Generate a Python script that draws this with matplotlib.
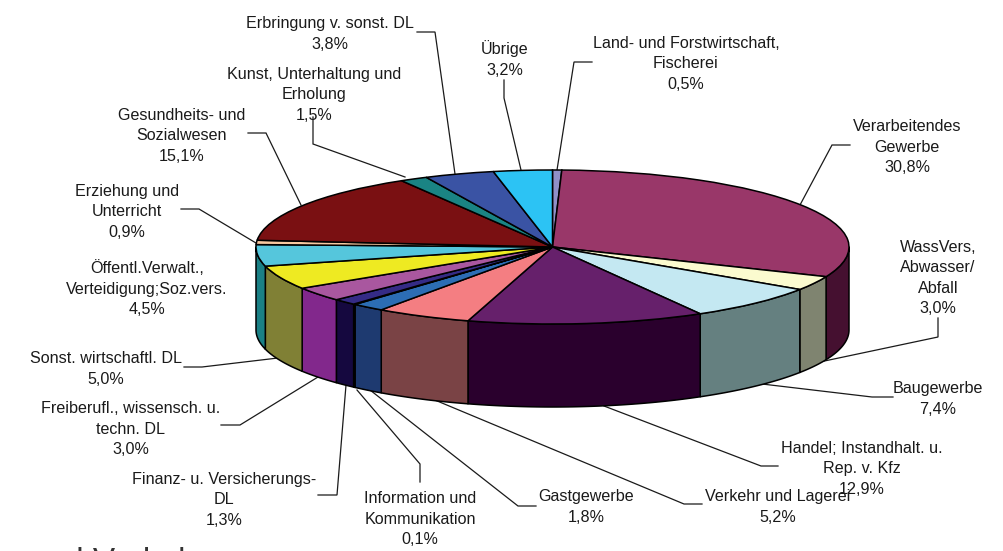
import numpy as np
import matplotlib
matplotlib.use("Agg")
import matplotlib.pyplot as plt

plt.rcParams['font.family'] = ['Liberation Sans', 'DejaVu Sans']

# ---------- data ----------
labels = ["Land- und Forstwirtschaft,\nFischerei", "Verarbeitendes\nGewerbe", "WassVers,\nAbwasser/\nAbfall",
          "Baugewerbe", "Handel; Instandhalt. u.\nRep. v. Kfz", "Verkehr und Lagerei", "Gastgewerbe",
          "Information und\nKommunikation", "Finanz- u. Versicherungs-\nDL", "Freiberufl., wissensch. u.\ntechn. DL",
          "Sonst. wirtschaftl. DL", "Öffentl.Verwalt.,\nVerteidigung;Soz.vers.", "Erziehung und\nUnterricht",
          "Gesundheits- und\nSozialwesen", "Kunst, Unterhaltung und\nErholung", "Erbringung v. sonst. DL", "Übrige"]
values = [0.5, 30.8, 3.0, 7.4, 12.9, 5.2, 1.8, 0.1, 1.3, 3.0, 5.0, 4.5, 0.9, 15.1, 1.5, 3.8, 3.2]
top_colors = ["#9090C8", "#993769", "#FBFBCF", "#C4E8F2", "#66206B", "#F47E82", "#2C6DB4", "#1A1A1A",
              "#352B86", "#A9579F", "#EEEA22", "#55C6DC", "#F8C8A0", "#7A1012", "#1A8484", "#3A53A4", "#2CC3F4"]
side_colors = ["#55556F", "#451030", "#7F8470", "#658080", "#2A002D", "#7A4345", "#1E3A70", "#111111",
               "#15083F", "#82288C", "#808035", "#1A8085", "#8A7060", "#400808", "#0D4545", "#203060", "#188090"]

# pixel positions (centre x, centre y) for label text blocks
label_xy = [(686, 64), (907, 147), (938, 278), (938, 399), (862, 469), (778, 507), (586, 507),
            (420, 519), (224, 500), (131, 429), (106, 369), (147, 289), (127, 212), (182, 136),
            (314, 95), (330, 34), (505, 59)]
leaders = [
    [(592, 62), (574, 62), (557, 170)],
    [(850, 145), (832, 145), (800, 205)],
    [(938, 318), (938, 337), (815, 363)],
    [(893, 397), (872, 397), (762, 384)],
    [(778, 466), (761, 466), (604, 406)],
    [(702, 504), (684, 504), (430, 398)],
    [(536, 506), (518, 506), (370, 390)],
    [(420, 482), (420, 464), (357, 390)],
    [(318, 495), (337, 495), (346, 385)],
    [(221, 425), (240, 425), (318, 377)],
    [(184, 367), (202, 367), (278, 358)],
    [(181, 209), (199, 209), (256, 243)],
    [(248, 133), (266, 133), (301, 205)],
    [(313, 117), (313, 144), (405, 177)],
    [(417, 32), (435, 32), (455, 174)],
    [(504, 80), (504, 98), (521, 170)],
]
pct = [f"{v:.1f}".replace(".", ",") + "%" for v in values]

W, H = 1004, 551
CX, CY, RX, RY, DEPTH = 552.5, 247, 296.5, 77, 83

fig = plt.figure(figsize=(W / 100, H / 100), dpi=100, facecolor="white")

# pixel-space layer for labels and leader lines
bg = fig.add_axes([0, 0, 1, 1], zorder=1)
bg.set_xlim(0, W)
bg.set_ylim(H, 0)
bg.axis("off")
for pts in leaders:
    xs, ys = zip(*pts)
    bg.plot(xs, ys, color="#1a1a1a", lw=0.9, solid_joinstyle="miter")

# pie layer: unit circle squashed to an ellipse through the axis limits
ax = fig.add_axes([0, 0, 1, 1], zorder=2)
ax.patch.set_alpha(0)
vals = np.array(values)
edges = 90 - 360 * np.concatenate([[0], np.cumsum(vals)]) / vals.sum()   # degrees, clockwise from top

depth_u = DEPTH / RY
for i in range(len(vals)):
    a1, a0 = edges[i], edges[i + 1]
    # visible wall: lower half of the ellipse
    for shift in (0, -360):
        lo, hi = max(a0, -180 + shift), min(a1, 0 + shift)
        if hi > lo:
            t = np.radians(np.linspace(lo, hi, 60))
            x = np.cos(t)
            y = np.sin(t)
            ax.fill(np.r_[x, x[::-1]], np.r_[y, y[::-1] - depth_u],
                    facecolor=side_colors[i], edgecolor="black", lw=1.1, joinstyle="round")

ax.pie(vals, colors=top_colors, startangle=90, counterclock=False, radius=1,
       wedgeprops=dict(edgecolor="black", linewidth=1.1), normalize=True)
ax.set_aspect("auto")
ax.set_xlim(-CX / RX, (W - CX) / RX)
ax.set_ylim(-(H - CY) / RY, CY / RY)
ax.axis("off")

# labels
for lab, p, (x, y) in zip(labels, pct, label_xy):
    bg.text(x, y, lab + "\n" + p, ha="center", va="center", fontsize=11.6,
            color="#1a1a1a", linespacing=1.46, multialignment="center")

# heading clipped by the lower edge of the picture
bg.text(28, 571, "und Verkehr", fontsize=24, color="#333333", ha="left", va="baseline", clip_on=False)

fig.savefig("out.png", dpi=100)
